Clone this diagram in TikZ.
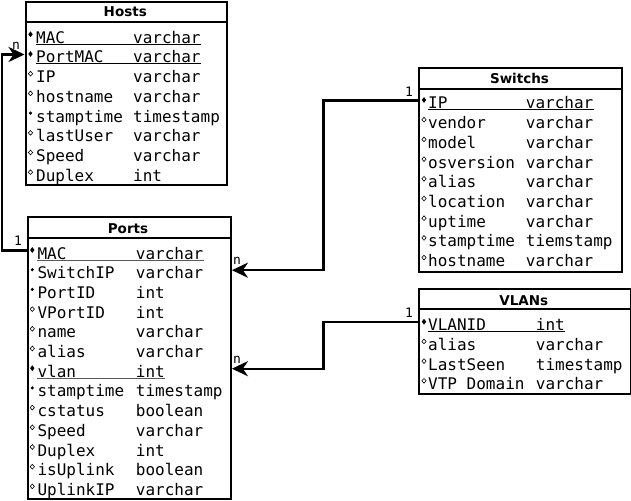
\documentclass[tikz,border=0pt]{standalone}
\usepackage{fontspec}
\setmonofont{DejaVu Sans Mono}
\setsansfont{DejaVu Sans}
\usetikzlibrary{arrows.meta,shapes.geometric}
\begin{document}
\begin{tikzpicture}[x=1pt,y=-1pt,
 tbl/.style={draw, line width=2.4pt, rectangle, anchor=north west, inner sep=0pt},
 sepl/.style={line width=2.4pt},
 ttl/.style={font=\fontsize{13.5}{13.5}\selectfont\sffamily\bfseries, inner sep=0pt, anchor=base},
 fld/.style={font=\fontsize{16}{16}\selectfont\ttfamily, inner sep=0pt, text height=17pt, text depth=0pt, anchor=base west},
 mkpk/.style={diamond, fill, inner sep=0pt, minimum width=4.5pt, minimum height=6pt},
 mknn/.style={circle, fill, inner sep=0pt, minimum size=3.4pt},
 mknl/.style={diamond, draw, line width=0.6pt, inner sep=0pt, minimum width=4.5pt, minimum height=5pt},
 conn/.style={line width=2.4pt},
 arr/.style={-{Stealth[length=16pt,width=15pt,inset=5pt]}},
 card/.style={font=\fontsize{13}{13}\selectfont\ttfamily, inner sep=0pt},
 ul/.style={line width=1pt}]
\useasboundingbox (0,0) rectangle (631,500);

% ---------- Hosts ----------
\node[tbl, minimum width=201.5pt, minimum height=183pt] (hosts) at (24.5,1) {};
\draw[sepl] ([yshift=-21pt]hosts.north west) -- ([yshift=-21pt]hosts.north east);
\node[ttl] (hoststitle) at (125.25,17) {Hosts};
\foreach \n/\t/\m [count=\i] in {MAC/varchar/mkpk, PortMAC/varchar/mkpk, IP/varchar/mknl, hostname/varchar/mknl, stamptime/timestamp/mknn, lastUser/varchar/mknl, Speed/varchar/mknl, Duplex/int/mknl}{
  \node[\m] (hosts-m\i) at (30.5,{43.3+19.7*(\i-1)-9}) {};
  \node[fld] (hosts-n\i) at (36,{43.3+19.7*(\i-1)}) {\n};
  \node[fld] (hosts-t\i) at (133,{43.3+19.7*(\i-1)}) {\t};
}
\draw[ul] ([yshift=-1pt]hosts-n1.base west) -- ([yshift=-1pt]hosts-t1.base east);
\draw[ul] ([yshift=-1pt]hosts-n2.base west) -- ([yshift=-1pt]hosts-t2.base east);

% ---------- Ports ----------
\node[tbl, minimum width=203pt, minimum height=282pt] (ports) at (26.5,216) {};
\draw[sepl] ([yshift=-22pt]ports.north west) -- ([yshift=-22pt]ports.north east);
\node[ttl] (portstitle) at (128,233) {Ports};
\foreach \n/\t/\m [count=\i] in {MAC/varchar/mkpk, SwitchIP/varchar/mknn, PortID/int/mknn, VPortID/int/mknl, name/varchar/mknl, alias/varchar/mknl, vlan/int/mkpk, stamptime/timestamp/mknn, cstatus/boolean/mknl, Speed/varchar/mknl, Duplex/int/mknl, isUplink/boolean/mknl, UplinkIP/varchar/mknl}{
  \node[\m] (ports-m\i) at (32.3,{259+19.7*(\i-1)-9}) {};
  \node[fld] (ports-n\i) at (37.3,{259+19.7*(\i-1)}) {\n};
  \node[fld] (ports-t\i) at (135.7,{259+19.7*(\i-1)}) {\t};
}
\draw[ul, black!65] ([yshift=-1pt]ports-n1.base west) -- ([yshift=-1pt]ports-t1.base east);
\draw[ul, black!65] ([yshift=-1pt]ports-n7.base west) -- ([yshift=-1pt]ports-t7.base east);

% ---------- Switchs ----------
\node[tbl, minimum width=203pt, minimum height=203.5pt] (switchs) at (418,67) {};
\draw[sepl] ([yshift=-22pt]switchs.north west) -- ([yshift=-22pt]switchs.north east);
\node[ttl] (switchstitle) at (519.5,84) {Switchs};
\foreach \n/\t/\m [count=\i] in {IP/varchar/mkpk, vendor/varchar/mknl, model/varchar/mknl, osversion/varchar/mknl, alias/varchar/mknl, location/varchar/mknl, uptime/varchar/mknl, stamptime/tiemstamp/mknl, hostname/varchar/mknl}{
  \node[\m] (switchs-m\i) at (424,{109+19.7*(\i-1)-9}) {};
  \node[fld] (switchs-n\i) at (428,{109+19.7*(\i-1)}) {\n};
  \node[fld] (switchs-t\i) at (525.7,{109+19.7*(\i-1)}) {\t};
}
\draw[ul] ([yshift=-1pt]switchs-n1.base west) -- ([yshift=-1pt]switchs-t1.base east);

% ---------- VLANs ----------
\node[tbl, minimum width=211.5pt, minimum height=105pt] (vlans) at (418,288) {};
\draw[sepl] ([yshift=-21pt]vlans.north west) -- ([yshift=-21pt]vlans.north east);
\node[ttl] (vlanstitle) at (523.75,305) {VLANs};
\foreach \n/\t/\m [count=\i] in {VLANID/int/mkpk, alias/varchar/mknl, LastSeen/timestamp/mknl, VTP Domain/varchar/mknl}{
  \node[\m] (vlans-m\i) at (424,{330.7+19.7*(\i-1)-9}) {};
  \node[fld] (vlans-n\i) at (428,{330.7+19.7*(\i-1)}) {\n};
  \node[fld] (vlans-t\i) at (535.7,{330.7+19.7*(\i-1)}) {\t};
}
\draw[ul] ([yshift=-1pt]vlans-n1.base west) -- ([yshift=-1pt]vlans-t1.base east);

% ---------- Connectors ----------
\coordinate (cA) at (2,0);
\coordinate (cB) at (323.5,0);
\draw[conn, arr] (ports.west |- ports-n1.west) -- (cA |- ports-n1.west) -- (cA |- hosts-n2.west) -- (hosts.west |- hosts-n2.west);
\draw[conn, arr] (switchs.west |- switchs-n1.west) -- (cB |- switchs-n1.west) -- (cB |- ports-n2.west) -- (ports.east |- ports-n2.west);
\draw[conn, arr] (vlans.west |- vlans-n1.west) -- (cB |- vlans-n1.west) -- (cB |- ports-n7.west) -- (ports.east |- ports-n7.west);

% ---------- Cardinalities ----------
\node[card] (cardA1) at (18,241) {1};
\node[card] (cardAn) at (16,46) {n};
\node[card] (cardB1) at (409,92) {1};
\node[card] (cardBn) at (237,261) {n};
\node[card] (cardC1) at (409,313) {1};
\node[card] (cardCn) at (237,360) {n};
\end{tikzpicture}
\end{document}
